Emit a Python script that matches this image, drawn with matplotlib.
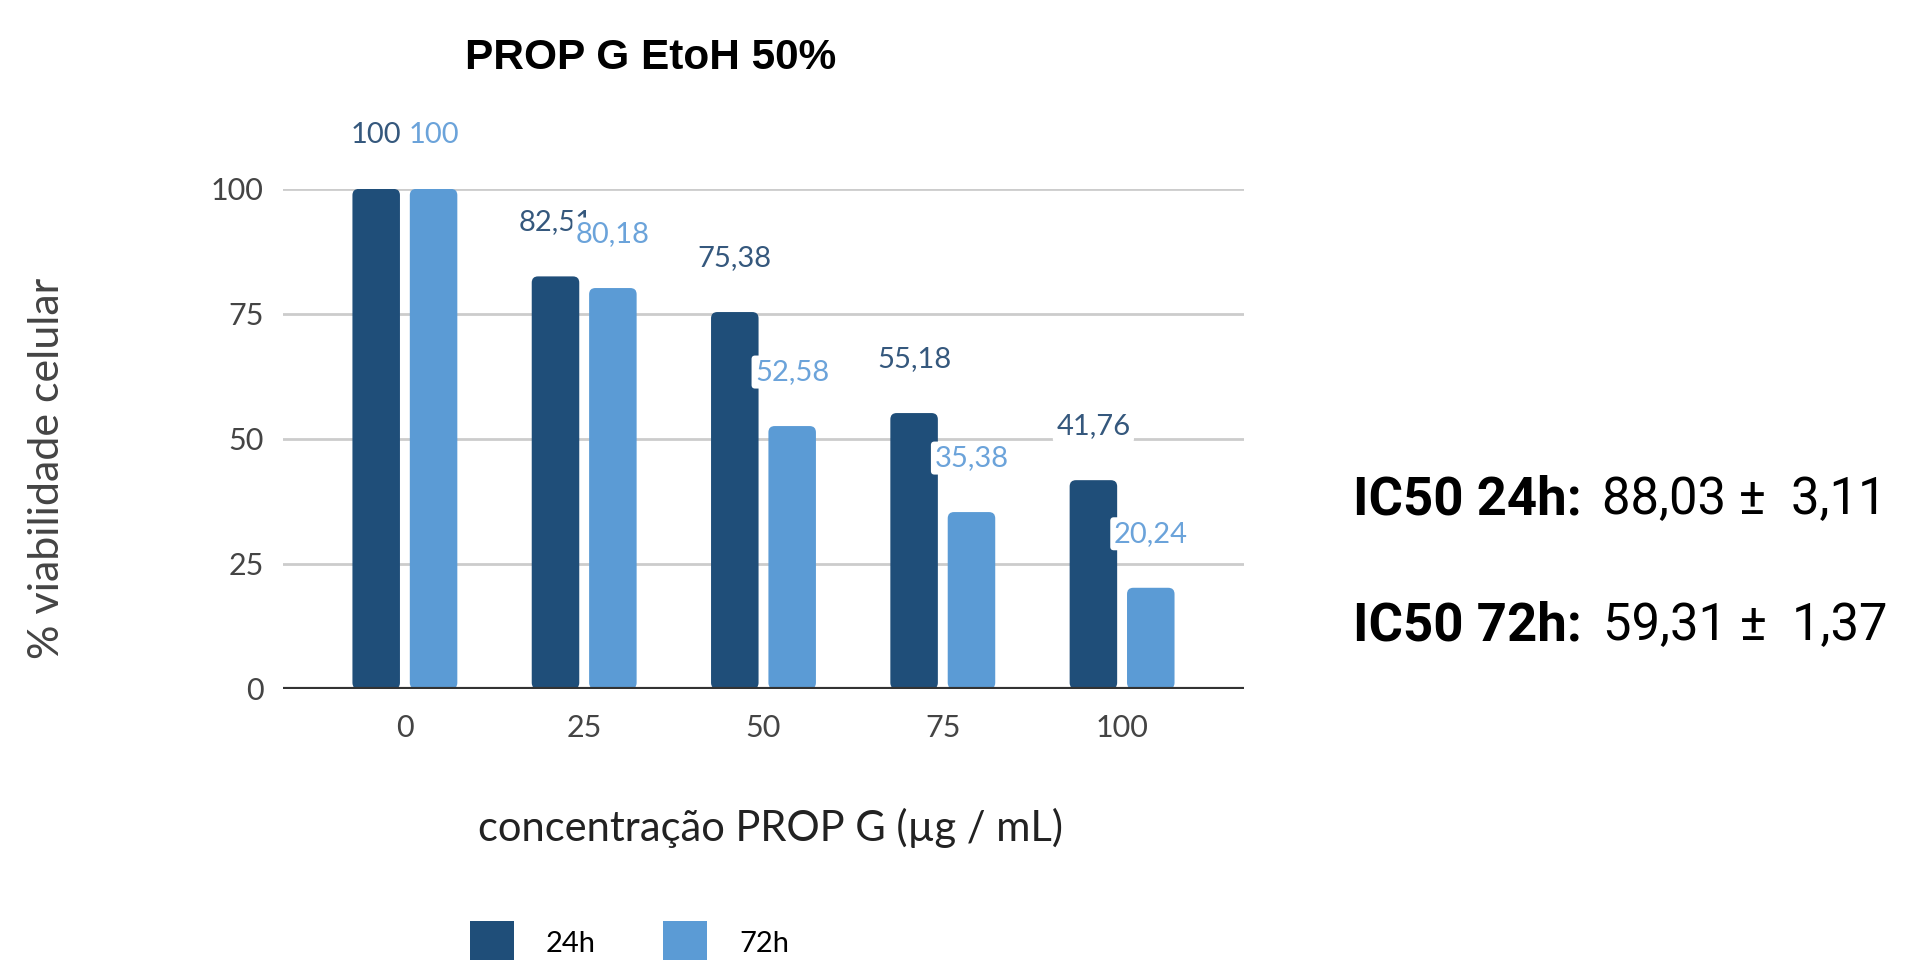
import numpy as np
import matplotlib.pyplot as plt
from matplotlib.patches import FancyBboxPatch, Patch

# viabilidade celular (%) por concentração de PROP G
concentracoes = ["0", "25", "50", "75", "100"]
viab_24h = [100, 82.51, 75.38, 55.18, 41.76]
viab_72h = [100, 80.18, 52.58, 35.38, 20.24]
series = ["24h", "72h"]
ic50_24h = "88,03 ±  3,11"
ic50_72h = "59,31 ±  1,37"

cor_24h = "#1f4e79"
cor_72h = "#5b9bd5"
cor_txt_24h = "#35587d"
cor_txt_72h = "#6ba3da"

def fmt(v):
    if float(v).is_integer():
        return "%d" % v
    return ("%.2f" % v).replace(".", ",")

fig = plt.figure(figsize=(19.08, 9.6), dpi=100)
ax = fig.add_axes([0.1483, 0.2823, 0.5037, 0.5209])

x = np.arange(len(concentracoes))
larg = 0.265
desl = 0.16
b1 = ax.bar(x - desl, viab_24h, larg, color=cor_24h, zorder=3)
b2 = ax.bar(x + desl, viab_72h, larg, color=cor_72h, zorder=3)

ax.set_xlim(-0.68, 4.68)
ax.set_ylim(0, 100)

# troca as barras retas por barras com cantos arredondados
for cont in (b1, b2):
    for p in cont.patches:
        fb = FancyBboxPatch((p.get_x(), p.get_y()), p.get_width(), p.get_height(),
                            boxstyle="round,pad=0,rounding_size=0.035",
                            mutation_aspect=36, fc=p.get_facecolor(), ec="none",
                            zorder=3)
        ax.add_patch(fb)
        p.remove()

# rótulos de valor acima de cada barra
for xi, v in zip(x, viab_24h):
    ax.text(xi - desl, v + 10.8, fmt(v), ha="center", va="center", fontsize=21,
            family="Lato", color=cor_txt_24h, zorder=5,
            bbox=dict(boxstyle="round,pad=0.12", fc="white", ec="none"))
for xi, v in zip(x, viab_72h):
    ax.text(xi + desl, v + 10.8, fmt(v), ha="center", va="center", fontsize=21,
            family="Lato", color=cor_txt_72h, zorder=6,
            bbox=dict(boxstyle="round,pad=0.12", fc="white", ec="none"))

ax.set_yticks([0, 25, 50, 75, 100])
ax.set_xticks(x)
ax.set_xticklabels(concentracoes)
ax.grid(axis="y", color="#cccccc", linewidth=2, zorder=0)
ax.axhline(0, color="#333333", linewidth=3, zorder=4)
for s in ax.spines.values():
    s.set_visible(False)
ax.tick_params(length=0, labelsize=22, labelcolor="#444444", pad=14)
for t in ax.get_xticklabels() + ax.get_yticklabels():
    t.set_family("Lato")
ax.tick_params(axis="x", pad=18)

fig.text(0.341, 0.94, "PROP G EtoH 50%", ha="center", va="center",
         fontsize=30.5, fontweight="bold", family="Liberation Sans")
fig.text(0.404, 0.138, "concentração PROP G (µg / mL)", ha="center", va="center",
         fontsize=30, family="Lato", color="#222222")
fig.text(0.0245, 0.512, "% viabilidade celular", ha="center", va="center",
         rotation=90, fontsize=31, family="Lato", color="#444444")

handles = [Patch(fc=cor_24h, ec="none"), Patch(fc=cor_72h, ec="none")]
fig.legend(handles=handles, labels=series, loc="center", bbox_to_anchor=(0.33, 0.018),
           ncol=2, frameon=False, handlelength=1.5, handleheight=1.9,
           columnspacing=2.3, handletextpad=1.1, prop={"family": "Lato", "size": 21})

t1 = fig.text(0.709, 0.479, "IC50 24h:", fontsize=38, family="Roboto",
              fontweight="bold", va="center")
t2 = fig.text(0.709, 0.348, "IC50 72h:", fontsize=38, family="Roboto",
              fontweight="bold", va="center")
fig.canvas.draw()
r = fig.canvas.get_renderer()
for t, val in [(t1, ic50_24h), (t2, ic50_72h)]:
    bb = t.get_window_extent(r)
    x1 = bb.x1 / fig.bbox.width
    fig.text(x1 + 0.011, t.get_position()[1], val, fontsize=36.5, family="Roboto",
             va="center")

fig.savefig("out.png", dpi=100)
